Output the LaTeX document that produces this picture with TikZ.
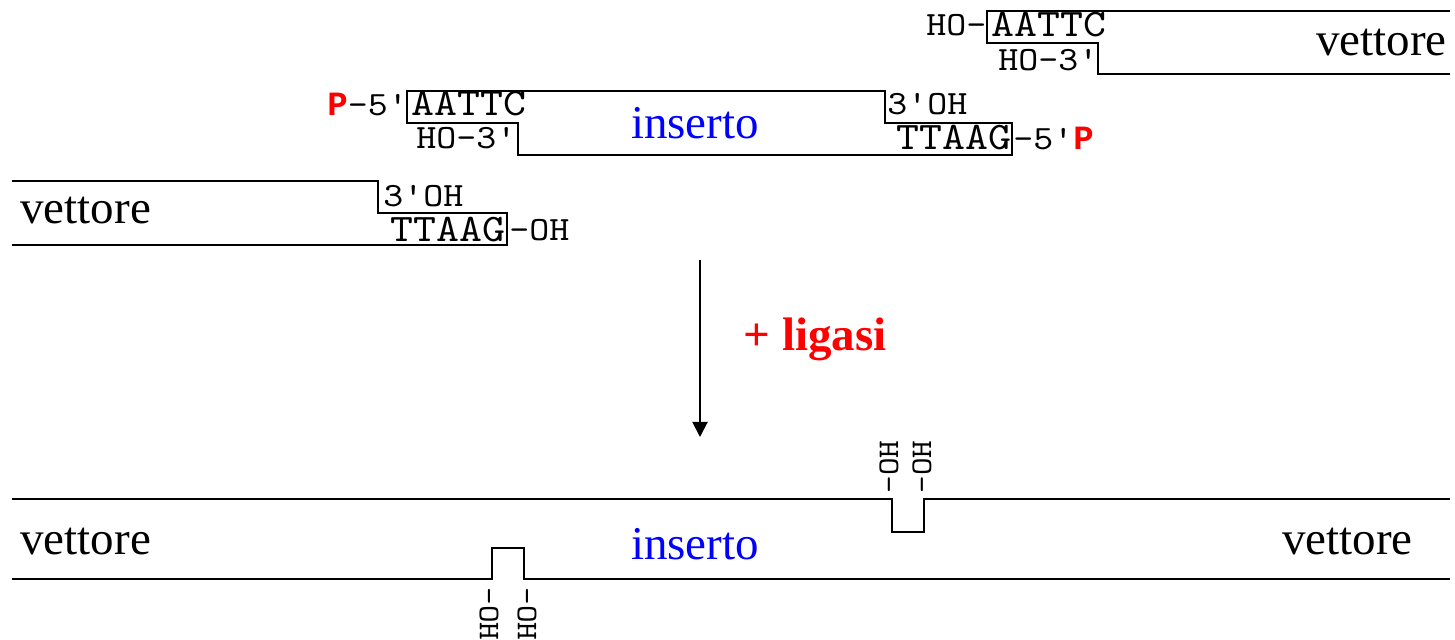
\documentclass[tikz,border=0pt]{standalone}
\usepackage{fontspec}
\setmainfont{Liberation Serif}
\setmonofont{lmmono10-regular.otf}[FakeStretch=1.12]
\newfontfamily\phosfont{Liberation Mono}
\usetikzlibrary{arrows.meta}

\newcommand{\phosP}{{\phosfont\bfseries\color{red}P}}

\begin{document}
\begin{tikzpicture}[
  x=0.5pt, y=-0.5pt,
  strand/.style={line width=1pt, black},
  seq/.style={inner sep=0pt, anchor=west, font=\fontsize{19.5}{22}\selectfont\ttfamily},
  endlbl/.style={inner sep=0pt, anchor=west, font=\fontsize{17}{19}\selectfont\ttfamily},
  dnaname/.style={inner sep=0pt, font=\fontsize{23.5}{28}\selectfont},
  nick/.style={endlbl, font=\fontsize{15}{17}\selectfont\ttfamily},
  react/.style={-{Triangle[length=7.5pt,width=7.5pt]}, line width=1pt},
]
\useasboundingbox (0,0) rectangle (1455,640);

% Vector, right arm (top)
\draw[strand] (1450,11) -- (987,11) -- (987,43) -- (1098,43) -- (1098,74) -- (1450,74);
\node[endlbl] (hoa) at (926,25) {HO-};
\node[seq] (seqa) at (991,25) {AATTC};
\node[endlbl] (hob) at (998,60) {HO-3'};
\node[dnaname, anchor=east] (vecr) at (1447,43) {vettore};

% Insert
\draw[strand] (407,91) -- (885,91) -- (885,123) -- (1012,123) -- (1012,155)
  -- (518,155) -- (518,123) -- (407,123) -- cycle;
\node[endlbl] (p5a) at (327,104) {\phosP-5'};
\node[seq] (seqb) at (411,104) {AATTC};
\node[endlbl] (hoc) at (416,138) {HO-3'};
\node[dnaname, text=blue] (ins) at (695,123) {inserto};
\node[endlbl] (oha) at (887,104) {3'OH};
\node[seq] (seqc) at (896,138) {TTAAG};
\node[endlbl] (p5b) at (1013,138) {-5'\phosP};

% Vector, left arm
\draw[strand] (12,181) -- (378,181) -- (378,213) -- (507,213) -- (507,245) -- (12,245);
\node[dnaname, anchor=west] (vecl) at (20,211) {vettore};
\node[endlbl] (ohb) at (383,196) {3'OH};
\node[seq] (seqd) at (390,230) {TTAAG};
\node[endlbl] (ohc) at (509,230) {-OH};

% Ligation step
\coordinate (arrtop) at (700,260);
\coordinate (arrbot) at (700,437);
\draw[react] (arrtop) -- (arrbot);
\node[dnaname, text=red, font=\fontsize{23.5}{28}\selectfont\bfseries] (lig) at (815,339) {+ ligasi};

% Product with nicks
\draw[strand] (12,499) -- (892,499) -- (892,532) -- (924,532) -- (924,499) -- (1450,499);
\draw[strand] (12,579) -- (492,579) -- (492,548) -- (524,548) -- (524,579) -- (1450,579);
\node[dnaname, anchor=west] (vecbl) at (20,541) {vettore};
\node[dnaname, text=blue] (insb) at (695,544) {inserto};
\node[dnaname, anchor=east] (vecbr) at (1413,541) {vettore};
\node[nick, rotate=90] (nka) at (889,494) {-OH};
\node[nick, rotate=90] (nkb) at (922,494) {-OH};
\node[nick, rotate=-90] (nkc) at (489,587) {-OH};
\node[nick, rotate=-90] (nkd) at (527,587) {-OH};
\end{tikzpicture}
\end{document}
